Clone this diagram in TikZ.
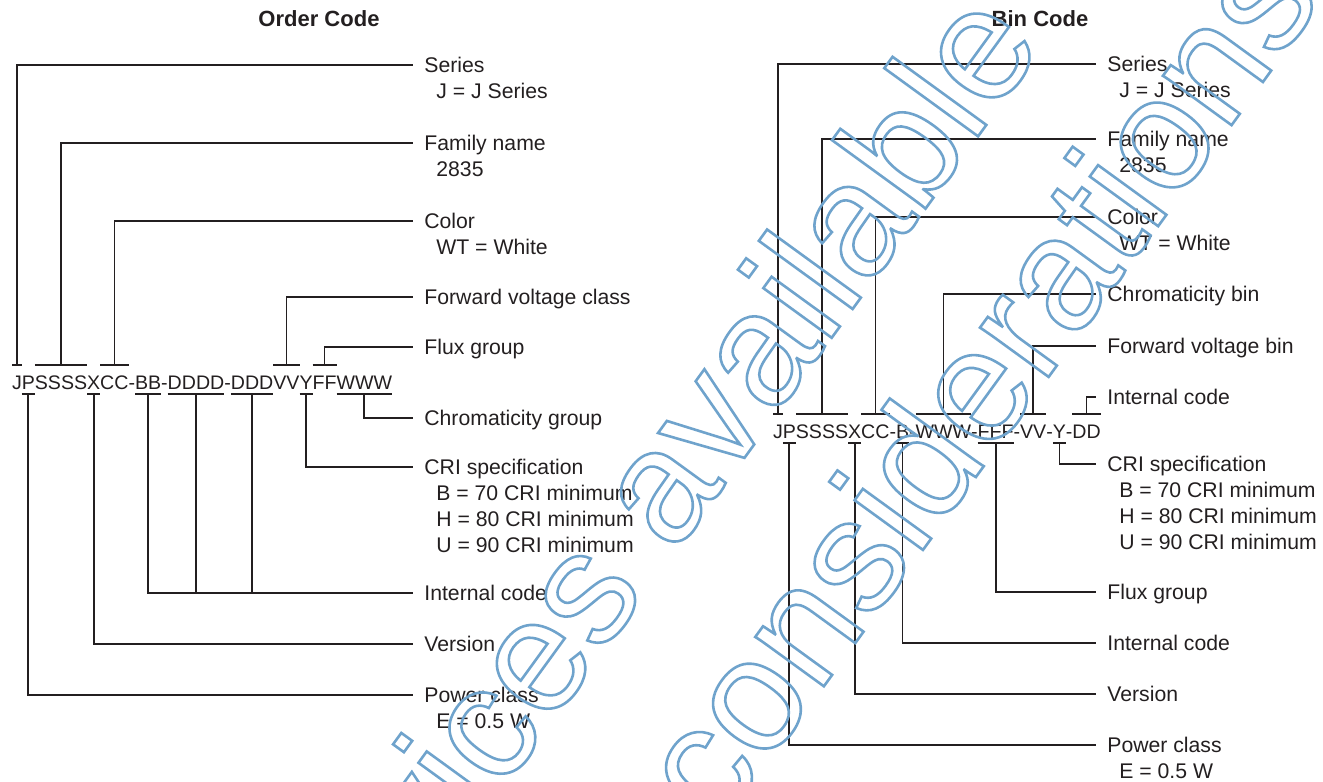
\documentclass[tikz,border=0pt]{standalone}
\usepackage{fontspec}
\setmainfont{Liberation Sans}
\usetikzlibrary{positioning, calc}
\definecolor{ink}{HTML}{231F20}
\definecolor{wmblue}{HTML}{6FA3CC}
\tikzset{
    code/.style={anchor=base west, inner sep=0pt, outer sep=0pt, text height=7pt, text depth=0pt, font=\fontsize{9.8}{12}\selectfont, text=ink},
    lbl/.style={anchor=north west, inner sep=0pt, align=left, font=\fontsize{10.6}{13}\selectfont, text=ink},
    ttl/.style={font=\fontsize{11}{13}\selectfont\bfseries, text=ink},
    conn/.style={draw=ink, line width=0.85pt},
    wmark/.style={text=wmblue, font=\fontsize{80}{80}\selectfont, inner sep=0pt},
}
\newcommand\wmon{\special{pdf:literal direct 1 Tr 1.3 w}}
\newcommand\wmoff{\special{pdf:literal direct 0 Tr}}

\begin{document}
\begin{tikzpicture}[x=0.5pt, y=-0.5pt]
                      \useasboundingbox (0,0) rectangle (1323,782);
                      \node[ttl] (tOrder) at (319,19) {Order Code};
                      \node[ttl] (tBin) at (1040,19) {Bin Code};

                      % order code
                      \node[code] (oJ) at (12,389) {J};
                      \node[code] (oP) at (oJ.base east) {P};
                      \node[code] (oS) at (oP.base east) {SSSS};
                      \node[code] (oX) at (oS.base east) {X};
                      \node[code] (oC) at (oX.base east) {CC};
                      \node[code] (oH1) at (oC.base east) {-};
                      \node[code] (oB) at (oH1.base east) {BB};
                      \node[code] (oH2) at (oB.base east) {-};
                      \node[code] (oD) at (oH2.base east) {DDDD};
                      \node[code] (oH3) at (oD.base east) {-};
                      \node[code] (oE) at (oH3.base east) {DDD};
                      \node[code] (oV) at (oE.base east) {VV};
                      \node[code] (oY) at (oV.base east) {Y};
                      \node[code] (oF) at (oY.base east) {FF};
                      \node[code] (oW) at (oF.base east) {WWW};

                      \node[lbl] (lSeries) at (424,57) {Series\\\hspace*{6pt}J = J Series};
                      \node[lbl] (lFamily) at (424,135) {Family name\\\hspace*{6pt}2835};
                      \node[lbl] (lColor) at (424,213) {Color\\\hspace*{6pt}WT = White};
                      \node[lbl] (lFwd) at (424,289) {Forward voltage class};
                      \node[lbl] (lFlux) at (424,339) {Flux group};
                      \node[lbl] (lChrom) at (424,410) {Chromaticity group};
                      \node[lbl] (lCri) at (424,459) {CRI specification\\\hspace*{6pt}B = 70 CRI minimum\\\hspace*{6pt}H = 80 CRI minimum\\\hspace*{6pt}U = 90 CRI minimum};
                      \node[lbl] (lIntern) at (424,585) {Internal code};
                      \node[lbl] (lVersion) at (424,636) {Version};
                      \node[lbl] (lPower) at (424,687) {Power class\\\hspace*{6pt}E = 0.5 W};

                      \foreach \n in {oJ,oS,oC,oV,oF}
                        \draw[conn] ([yshift=5pt]\n.north west) -- ([yshift=5pt]\n.north east);
                      \foreach \n in {oP,oX,oB,oD,oE,oY,oW}
                        \draw[conn] ([yshift=-2.5pt]\n.south west) -- ([yshift=-2.5pt]\n.south east);

                      \draw[conn] ([yshift=5pt]oJ.north) |- ($(lSeries.north west)+(-11,8)$);
                      \draw[conn] ([yshift=5pt]oS.north) |- ($(lFamily.north west)+(-11,8)$);
                      \draw[conn] ([yshift=5pt]oC.north) |- ($(lColor.north west)+(-11,8)$);
                      \draw[conn] ([yshift=5pt]oV.north) |- ($(lFwd.north west)+(-11,8)$);
                      \draw[conn] ([yshift=5pt]oF.north) |- ($(lFlux.north west)+(-11,8)$);
                      \draw[conn] ([yshift=-2.5pt]oW.south) |- ($(lChrom.north west)+(-11,8)$);
                      \draw[conn] ([yshift=-2.5pt]oY.south) |- ($(lCri.north west)+(-11,8)$);
                      \coordinate (iL) at ($(lIntern.north west)+(-11,8)$);
                      \draw[conn] ([yshift=-2.5pt]oB.south) |- (iL);
                      \draw[conn] ([yshift=-2.5pt]oD.south) -- (oD.south |- iL);
                      \draw[conn] ([yshift=-2.5pt]oE.south) -- (oE.south |- iL);
                      \draw[conn] ([yshift=-2.5pt]oX.south) |- ($(lVersion.north west)+(-11,8)$);
                      \draw[conn] ([yshift=-2.5pt]oP.south) |- ($(lPower.north west)+(-11,8)$);

                      % bin code
                      \node[code] (bJ) at (773,438) {J};
                      \node[code] (bP) at (bJ.base east) {P};
                      \node[code] (bS) at (bP.base east) {SSSS};
                      \node[code] (bX) at (bS.base east) {X};
                      \node[code] (bC) at (bX.base east) {CC};
                      \node[code] (bH1) at (bC.base east) {-};
                      \node[code] (bB) at (bH1.base east) {B};
                      \node[code] (bH2) at (bB.base east) {-};
                      \node[code] (bW) at (bH2.base east) {WWW};
                      \node[code] (bH3) at (bW.base east) {-};
                      \node[code] (bF) at (bH3.base east) {FFF};
                      \node[code] (bH4) at (bF.base east) {-};
                      \node[code] (bV) at (bH4.base east) {VV};
                      \node[code] (bH5) at (bV.base east) {-};
                      \node[code] (bY) at (bH5.base east) {Y};
                      \node[code] (bH6) at (bY.base east) {-};
                      \node[code] (bD) at (bH6.base east) {DD};

                      \node[lbl] (rSeries) at (1107,56) {Series\\\hspace*{6pt}J = J Series};
                      \node[lbl] (rFamily) at (1107,131) {Family name\\\hspace*{6pt}2835};
                      \node[lbl] (rColor) at (1107,209) {Color\\\hspace*{6pt}WT = White};
                      \node[lbl] (rChrom) at (1107,286) {Chromaticity bin};
                      \node[lbl] (rFwd) at (1107,338) {Forward voltage bin};
                      \node[lbl] (rInt1) at (1107,389) {Internal code};
                      \node[lbl] (rCri) at (1107,456) {CRI specification\\\hspace*{6pt}B = 70 CRI minimum\\\hspace*{6pt}H = 80 CRI minimum\\\hspace*{6pt}U = 90 CRI minimum};
                      \node[lbl] (rFlux) at (1107,584) {Flux group};
                      \node[lbl] (rInt2) at (1107,635) {Internal code};
                      \node[lbl] (rVersion) at (1107,686) {Version};
                      \node[lbl] (rPower) at (1107,737) {Power class\\\hspace*{6pt}E = 0.5 W};

                      \foreach \n in {bJ,bS,bC,bW,bV,bD}
                        \draw[conn] ([yshift=5pt]\n.north west) -- ([yshift=5pt]\n.north east);
                      \foreach \n in {bP,bX,bB,bF,bY}
                        \draw[conn] ([yshift=-2.5pt]\n.south west) -- ([yshift=-2.5pt]\n.south east);

                      \draw[conn] ([yshift=5pt]bJ.north) |- ($(rSeries.north west)+(-11,8)$);
                      \draw[conn] ([yshift=5pt]bS.north) |- ($(rFamily.north west)+(-11,8)$);
                      \draw[conn] ([yshift=5pt]bC.north) |- ($(rColor.north west)+(-11,8)$);
                      \draw[conn] ([yshift=5pt]bW.north) |- ($(rChrom.north west)+(-11,8)$);
                      \draw[conn] ([yshift=5pt]bV.north) |- ($(rFwd.north west)+(-11,8)$);
                      \draw[conn] ([yshift=5pt]bD.north) |- ($(rInt1.north west)+(-11,8)$);
                      \draw[conn] ([yshift=-2.5pt]bY.south) |- ($(rCri.north west)+(-11,8)$);
                      \draw[conn] ([yshift=-2.5pt]bF.south) |- ($(rFlux.north west)+(-11,8)$);
                      \draw[conn] ([yshift=-2.5pt]bB.south) |- ($(rInt2.north west)+(-11,8)$);
                      \draw[conn] ([yshift=-2.5pt]bX.south) |- ($(rVersion.north west)+(-11,8)$);
                      \draw[conn] ([yshift=-2.5pt]bP.south) |- ($(rPower.north west)+(-11,8)$);

                      % watermark
                      \node[wmark, rotate=54] (wmA) at (633,514) {\wmon Devices available\wmoff};
                      \node[wmark, rotate=54] (wmB) at (975,381) {\wmon considerations\wmoff};
\end{tikzpicture}
\end{document}
